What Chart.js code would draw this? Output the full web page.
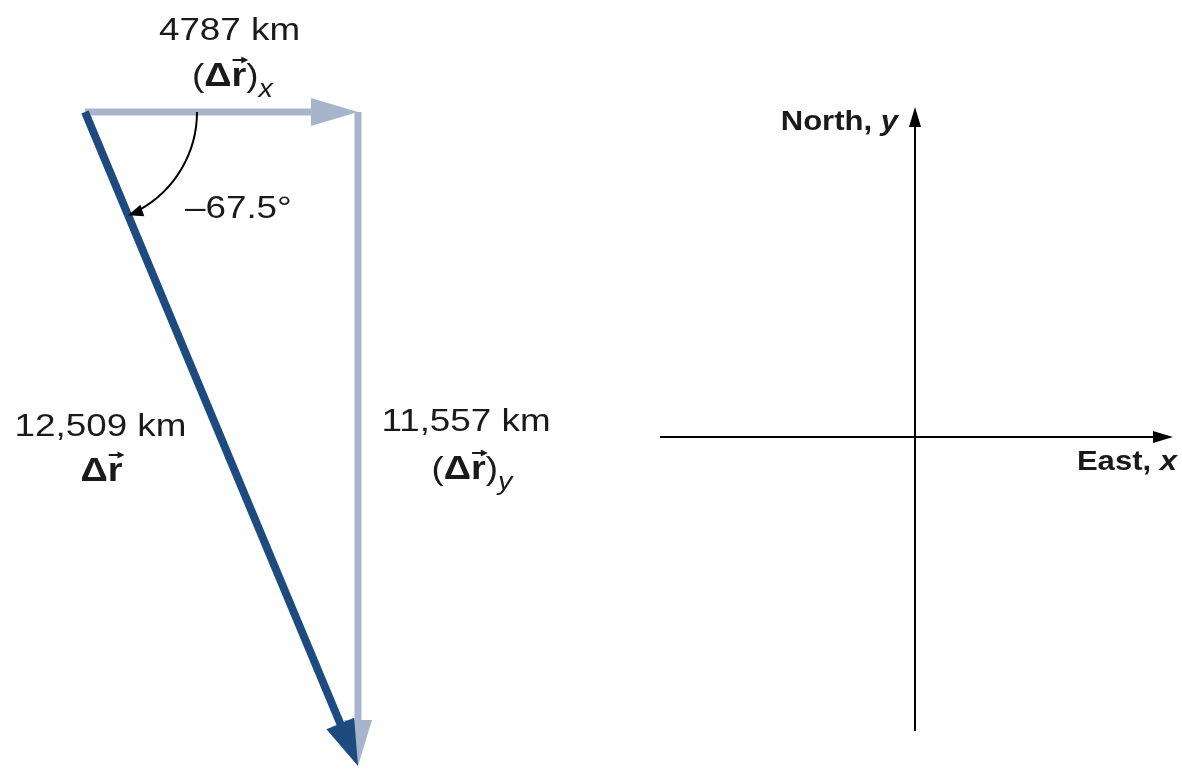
<!DOCTYPE html>
<html><head><meta charset="utf-8">
<script src="https://cdn.jsdelivr.net/npm/chart.js@4.4.0/dist/chart.umd.min.js"></script>
<style>
html,body{margin:0;padding:0;background:#fff;overflow:hidden}
#wrap{width:1182px;height:769px;position:relative}
</style>
</head><body>
<div id="wrap"><canvas id="c"></canvas></div>
<script>
// ---------- data (km; east = +x, north = +y) ----------
const componentX = [4787, 0];          // (Δr)x
const componentY = [0, -11557];        // (Δr)y
const resultant  = [4787, -11557];     // Δr
const magnitudeLabels = ['4787 km', '11,557 km', '12,509 km'];
const angleLabels = ['\u201367.5\u00b0'];
// reference axes (drawn in the same km frame)
const axisOrigin = [14554, -5743];
const axisEastRange = [10083, 19078];
const axisNorthRange = [-10938, 88];
const axisNames = ['East, ', 'x', 'North, ', 'y'];

// ---------- styles ----------
const LIGHT = '#a6b4cc';
const DARK = '#1d4b80';
const INK = '#1a1a1a';
const FONT = '"Liberation Sans", Arial, Helvetica, sans-serif';
const SX = 1.15; // horizontal stretch of the lettering

const datasets = [
  { label: 'x-component', data: [{x:0,y:0},{x:componentX[0],y:componentX[1]}],
    arrow: {color: LIGHT, width: 7, len: 47, half: 14} },
  { label: 'y-component', data: [{x:componentX[0],y:componentX[1]},{x:componentX[0]+componentY[0],y:componentX[1]+componentY[1]}],
    arrow: {color: LIGHT, width: 7, len: 46, half: 14} },
  { label: 'resultant', data: [{x:0,y:0},{x:resultant[0],y:resultant[1]}],
    arrow: {color: DARK, width: 8, len: 46, half: 15} },
  { label: 'east axis', data: [{x:axisEastRange[0],y:axisOrigin[1]},{x:axisEastRange[1],y:axisOrigin[1]}],
    arrow: {color: '#000', width: 2, len: 20, half: 6} },
  { label: 'north axis', data: [{x:axisOrigin[0],y:axisNorthRange[0]},{x:axisOrigin[0],y:axisNorthRange[1]}],
    arrow: {color: '#000', width: 2, len: 20, half: 6} }
].map(d => Object.assign(d, {showLine:false, pointRadius:0, pointHoverRadius:0}));

function head(ctx, tx, ty, ux, uy, len, half, color) {
  const bx = tx - ux*len, by = ty - uy*len;
  ctx.beginPath();
  ctx.moveTo(tx, ty);
  ctx.lineTo(bx - uy*half, by + ux*half);
  ctx.lineTo(bx + uy*half, by - ux*half);
  ctx.closePath();
  ctx.fillStyle = color;
  ctx.fill();
}

const arrowPlugin = {
  id: 'arrows',
  afterDatasetsDraw(chart) {
    const ctx = chart.ctx;
    chart.data.datasets.forEach((ds, i) => {
      const meta = chart.getDatasetMeta(i);
      const p0 = meta.data[0], p1 = meta.data[1];
      const a = ds.arrow;
      const dx = p1.x - p0.x, dy = p1.y - p0.y, L = Math.hypot(dx, dy);
      const ux = dx / L, uy = dy / L;
      ctx.save();
      ctx.strokeStyle = a.color;
      ctx.lineWidth = a.width;
      ctx.lineCap = 'butt';
      ctx.beginPath();
      ctx.moveTo(p0.x, p0.y);
      ctx.lineTo(p1.x - ux*a.len*0.85, p1.y - uy*a.len*0.85);
      ctx.stroke();
      head(ctx, p1.x, p1.y, ux, uy, a.len, a.half, a.color);
      ctx.restore();
    });
    // angle arc from the x-component to the resultant
    const o = chart.getDatasetMeta(2).data[0], r1 = chart.getDatasetMeta(2).data[1];
    const e = Math.atan2(r1.y - o.y, r1.x - o.x);
    const R = 112, hl = 15;
    ctx.save();
    ctx.strokeStyle = '#000';
    ctx.lineWidth = 2;
    ctx.beginPath();
    ctx.arc(o.x, o.y, R, 0, e - hl / R * 0.8, false);
    ctx.stroke();
    const tx = o.x + R*Math.cos(e), ty = o.y + R*Math.sin(e);
    head(ctx, tx, ty, -Math.sin(e + hl/R/2), Math.cos(e + hl/R/2), hl, 6, '#000');
    ctx.restore();
  }
};

function drawRuns(ctx, runs, x, y, align) {
  let total = 0;
  runs.forEach(r => { ctx.font = r.font; r.w = ctx.measureText(r.t).width * SX; total += r.w; });
  let cx = align === 'center' ? x - total/2 : (align === 'right' ? x - total : x);
  runs.forEach(r => {
    ctx.save();
    ctx.font = r.font;
    ctx.fillStyle = INK;
    ctx.textBaseline = 'alphabetic';
    ctx.textAlign = 'left';
    ctx.translate(cx, y + (r.dy || 0));
    ctx.scale(SX, 1);
    ctx.fillText(r.t, 0, 0);
    ctx.restore();
    if (r.vec) {
      const ay = y - 26, x0 = cx + 1, x1 = cx + r.w + 2;
      ctx.save();
      ctx.strokeStyle = INK; ctx.lineWidth = 2;
      ctx.beginPath(); ctx.moveTo(x0, ay); ctx.lineTo(x1 - 4, ay); ctx.stroke();
      head(ctx, x1, ay, 1, 0, 7, 3.5, INK);
      ctx.restore();
    }
    cx += r.w;
  });
}

const REG = '32px ' + FONT, BOLD = 'bold 33px ' + FONT;
function vecRuns(sub) {
  const runs = [];
  if (sub) runs.push({t:'(', font: REG});
  runs.push({t:'\u0394', font: BOLD});
  runs.push({t:'r', font: BOLD, vec: true});
  if (sub) {
    runs.push({t:')', font: REG});
    runs.push({t:sub, font: 'italic 25px ' + FONT, dy: 11});
  }
  return runs;
}

const labelPlugin = {
  id: 'labels',
  afterDraw(chart) {
    const ctx = chart.ctx, xs = chart.scales.x, ys = chart.scales.y;
    const px = (a, b) => [xs.getPixelForValue(a), ys.getPixelForValue(b)];
    // x-component labels (anchored at its midpoint)
    let m = px(componentX[0]/2, componentX[1]/2);
    drawRuns(ctx, [{t: magnitudeLabels[0], font: REG}], m[0] + 8, m[1] - 72, 'center');
    drawRuns(ctx, vecRuns('x'), m[0] + 11, m[1] - 26, 'center');
    // angle label (anchored at the tail)
    let o = px(0, 0);
    drawRuns(ctx, [{t: angleLabels[0], font: REG}], o[0] + 100, o[1] + 106, 'left');
    // resultant labels
    m = px(resultant[0]/2, resultant[1]/2);
    drawRuns(ctx, [{t: magnitudeLabels[2], font: REG}], m[0] - 121, m[1] - 3, 'center');
    drawRuns(ctx, vecRuns(null), m[0] - 120, m[1] + 42, 'center');
    // y-component labels
    m = px(componentX[0] + componentY[0]/2, componentY[1]/2);
    drawRuns(ctx, [{t: magnitudeLabels[1], font: REG}], m[0] + 108, m[1] - 8, 'center');
    drawRuns(ctx, vecRuns('y'), m[0] + 114, m[1] + 40, 'center');
    // axis names
    const AB = 'bold 27px ' + FONT, ABI = 'bold italic 27px ' + FONT;
    let t = px(axisOrigin[0], axisNorthRange[1]);
    drawRuns(ctx, [{t: axisNames[2], font: AB}, {t: axisNames[3], font: ABI}], t[0] - 17, t[1] + 23, 'right');
    t = px(axisEastRange[1], axisOrigin[1]);
    drawRuns(ctx, [{t: axisNames[0], font: AB}, {t: axisNames[1], font: ABI}], t[0] + 4, t[1] + 33, 'right');
  }
};

new Chart(document.getElementById('c'), {
  type: 'scatter',
  data: { datasets },
  options: {
    responsive: true,
    maintainAspectRatio: false,
    animation: false,
    events: [],
    layout: { padding: 0 },
    plugins: { legend: {display:false}, tooltip: {enabled:false} },
    scales: {
      x: { type: 'linear', display: false, min: -1490.4, max: 19235.6 },
      y: { type: 'linear', display: false, min: -11610, max: 1979.2 }
    }
  },
  plugins: [arrowPlugin, labelPlugin]
});
</script>
</body></html>
